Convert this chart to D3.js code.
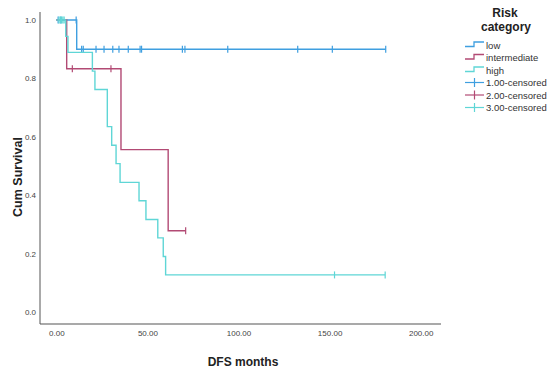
<!DOCTYPE html>
<html><head><meta charset="utf-8">
<script src="https://cdn.jsdelivr.net/npm/d3@7"></script>
<style>
body{margin:0;background:#fff;}
text{font-family:"Liberation Sans",Arial,sans-serif;}
</style></head>
<body><svg id="c" width="550" height="369"></svg>
<script>
// ---- data ----
const groups = ["low", "intermediate", "high"];
const censorLabels = ["1.00-censored", "2.00-censored", "3.00-censored"];
const colors = ["#3f9fe0", "#b24a74", "#5fd6d6"];

const lowTimes = [0, 11.2];
const lowSurv  = [1.0, 0.9];
const lowCensor = [1.0, 2.5, 10.9, 13.9, 14.8, 21.8, 26.2, 31.0, 34.4, 39.5, 46.0, 46.8, 69.2, 70.6, 94.1, 132.5, 151.5, 180.8];

const intTimes = [0, 5.7, 35.5, 61.4];
const intSurv  = [1.0, 0.833, 0.556, 0.278];
const intCensor = [8.8, 30.0, 71.0];

const highTimes = [0, 5.2, 6.4, 19.8, 21.2, 28.0, 30.4, 32.8, 35.0, 45.4, 49.2, 55.7, 58.7, 60.0];
const highSurv  = [1.0, 0.944, 0.889, 0.825, 0.762, 0.635, 0.571, 0.508, 0.444, 0.381, 0.317, 0.254, 0.190, 0.127];
const highCensor = [1.5, 2.2, 2.9, 3.6, 4.3, 152.7, 180.5];

const xTicks = [0, 50, 100, 150, 200];
const yTicks = [0, 0.2, 0.4, 0.6, 0.8, 1.0];

const series = [
  {times: lowTimes, surv: lowSurv, censor: lowCensor},
  {times: intTimes, surv: intSurv, censor: intCensor},
  {times: highTimes, surv: highSurv, censor: highCensor}
];

// ---- layout ----
const svg = d3.select("#c");
const x = d3.scaleLinear().domain([0, 200]).range([56.3, 420.7]);
const y = d3.scaleLinear().domain([0, 1]).range([312, 20]);
const xMin = x.invert(40), xMax = x.invert(441);
const yMin = y.invert(324), yMax = y.invert(12);
const FONT = '"Liberation Sans",Arial,sans-serif';

// axes
const gy = svg.append("g").attr("transform", `translate(${x(xMin)},0)`)
  .call(d3.axisLeft(y).tickValues(yTicks).tickFormat(d3.format(".1f")).tickSize(0).tickPadding(4));
gy.select(".domain").remove();
gy.selectAll("text").attr("font-size", 8).attr("fill", "#444").style("font-family", FONT);

const gx = svg.append("g").attr("transform", `translate(0,${y(yMin)})`)
  .call(d3.axisBottom(x).tickValues(xTicks).tickFormat(d3.format(".2f")).tickSize(0).tickPadding(6));
gx.select(".domain").remove();
gx.selectAll("text").attr("font-size", 8).attr("fill", "#444").style("font-family", FONT);

svg.append("line").attr("x1", x(xMin)).attr("x2", x(xMin)).attr("y1", y(yMax)).attr("y2", y(yMin))
  .attr("stroke", "#555").attr("stroke-width", 1);
svg.append("line").attr("x1", x(xMin)).attr("x2", x(xMax)).attr("y1", y(yMin)).attr("y2", y(yMin))
  .attr("stroke", "#555").attr("stroke-width", 1.2);

// titles
svg.append("text").attr("x", 243).attr("y", 366).attr("text-anchor", "middle")
  .attr("font-size", 12).attr("font-weight", "bold").attr("fill", "#222").text("DFS months");
svg.append("text").attr("transform", "translate(22,177) rotate(-90)").attr("text-anchor", "middle")
  .attr("font-size", 12.5).attr("font-weight", "bold").attr("fill", "#222").text("Cum Survival");

// curves
function survAt(s, t) {
  let v = s.surv[0];
  for (let i = 0; i < s.times.length; i++) if (s.times[i] <= t) v = s.surv[i];
  return v;
}
series.forEach((s, gi) => {
  const end = Math.max(d3.max(s.censor), d3.max(s.times));
  const pts = s.times.map((t, i) => [t, s.surv[i]]);
  pts.push([end, s.surv[s.surv.length - 1]]);
  const line = d3.line().x(d => x(d[0])).y(d => y(d[1])).curve(d3.curveStepAfter);
  svg.append("path").attr("d", line(pts)).attr("fill", "none")
    .attr("stroke", colors[gi]).attr("stroke-width", 1.4);
  svg.append("g").selectAll("line").data(s.censor).join("line")
    .attr("x1", d => x(d)).attr("x2", d => x(d))
    .attr("y1", d => y(survAt(s, d)) - 3.5).attr("y2", d => y(survAt(s, d)) + 3.5)
    .attr("stroke", colors[gi]).attr("stroke-width", 1.2);
});

// legend
svg.append("text").attr("x", 505).attr("y", 17).attr("text-anchor", "middle")
  .attr("font-size", 12).attr("font-weight", "bold").attr("fill", "#222").text("Risk");
svg.append("text").attr("x", 506).attr("y", 31).attr("text-anchor", "middle")
  .attr("font-size", 12).attr("font-weight", "bold").attr("fill", "#222").text("category");

const rowY = [45, 57.5, 70, 82.5, 95, 107.5];
const lg = svg.append("g");
groups.forEach((g, i) => {
  const yy = rowY[i];
  lg.append("path").attr("d", `M465,${yy + 1.5}H474V${yy - 3}H484`).attr("fill", "none")
    .attr("stroke", colors[i]).attr("stroke-width", 1.3);
  lg.append("text").attr("x", 486).attr("y", yy + 3.5).attr("font-size", 9.5).attr("fill", "#333").text(g);
});
censorLabels.forEach((g, i) => {
  const yy = rowY[i + 3];
  lg.append("line").attr("x1", 465).attr("x2", 484).attr("y1", yy).attr("y2", yy)
    .attr("stroke", colors[i]).attr("stroke-width", 1.2);
  lg.append("line").attr("x1", 474.5).attr("x2", 474.5).attr("y1", yy - 4.5).attr("y2", yy + 4.5)
    .attr("stroke", colors[i]).attr("stroke-width", 1.2);
  lg.append("text").attr("x", 486).attr("y", yy + 3.5).attr("font-size", 9.5).attr("fill", "#333").text(g);
});
</script></body></html>
